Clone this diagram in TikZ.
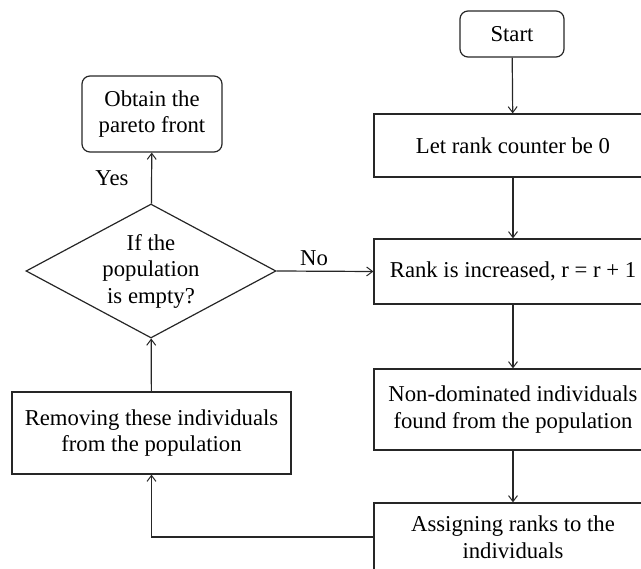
\documentclass[tikz,border=0pt]{standalone}
\usepackage{fontspec}
\setmainfont{Liberation Serif}
\usetikzlibrary{arrows.meta,shapes.geometric}

\tikzset{
  base/.style={draw=black!85, line width=1.2pt, align=center, inner sep=0pt,
    font=\fontsize{22.7}{26.5}\selectfont},
  procbox/.style={base, rectangle, minimum width=278pt},
  termbox/.style={base, rectangle, rounded corners=8pt},
  decision/.style={base, diamond, minimum width=250pt, minimum height=134pt, aspect=1.87},
  flow/.style={draw=black!85, line width=1.2pt, -{Straight Barb[length=6pt,width=9pt,line width=1pt]}},
  lbl/.style={font=\fontsize{22.7}{26.5}\selectfont, inner sep=0pt}
}

\begin{document}
\begin{tikzpicture}[x=1pt,y=-1pt]
  \useasboundingbox (0,0) rectangle (641,569);
  \clip (0,0) rectangle (641,569);

  % right column: ranking steps
  \node[termbox, minimum width=104pt, minimum height=46pt] (start) at (512,34) {Start};
  \node[procbox, minimum height=63pt] (init) at (513,145.5) {Let rank counter be 0};
  \node[procbox, minimum height=65pt] (incr) at (513,271.5) {Rank is increased, r = r + 1};
  \node[procbox, minimum height=81pt] (nondom) at (513,409.5) {Non-dominated individuals\\found from the population};
  \node[procbox, minimum height=68pt] (assign) at (513,537) {Assigning ranks to the\\individuals};

  % left column: removal, test and result
  \node[procbox, minimum width=279pt, minimum height=82pt] (remove) at (151.5,433) {Removing these individuals\\from the population};
  \node[decision] (test) at (151,271) {If the\\population\\is empty?};
  \node[termbox, minimum width=140pt, minimum height=76pt] (result) at (152,114) {Obtain the\\pareto front};

  % connectors
  \draw[flow] (start) -- (init);
  \draw[flow] (init) -- (incr);
  \draw[flow] (incr) -- (nondom);
  \draw[flow] (nondom) -- (assign);
  \draw[flow] (assign.west) -| (remove.south);
  \draw[flow] (remove) -- (test);
  \draw[flow] (test) -- (result);
  \draw[flow] (test.east) -- (incr.west);

  % branch labels
  \node[lbl] (yes) at (112,178) {Yes};
  \node[lbl] (no) at (314,258) {No};
\end{tikzpicture}
\end{document}
